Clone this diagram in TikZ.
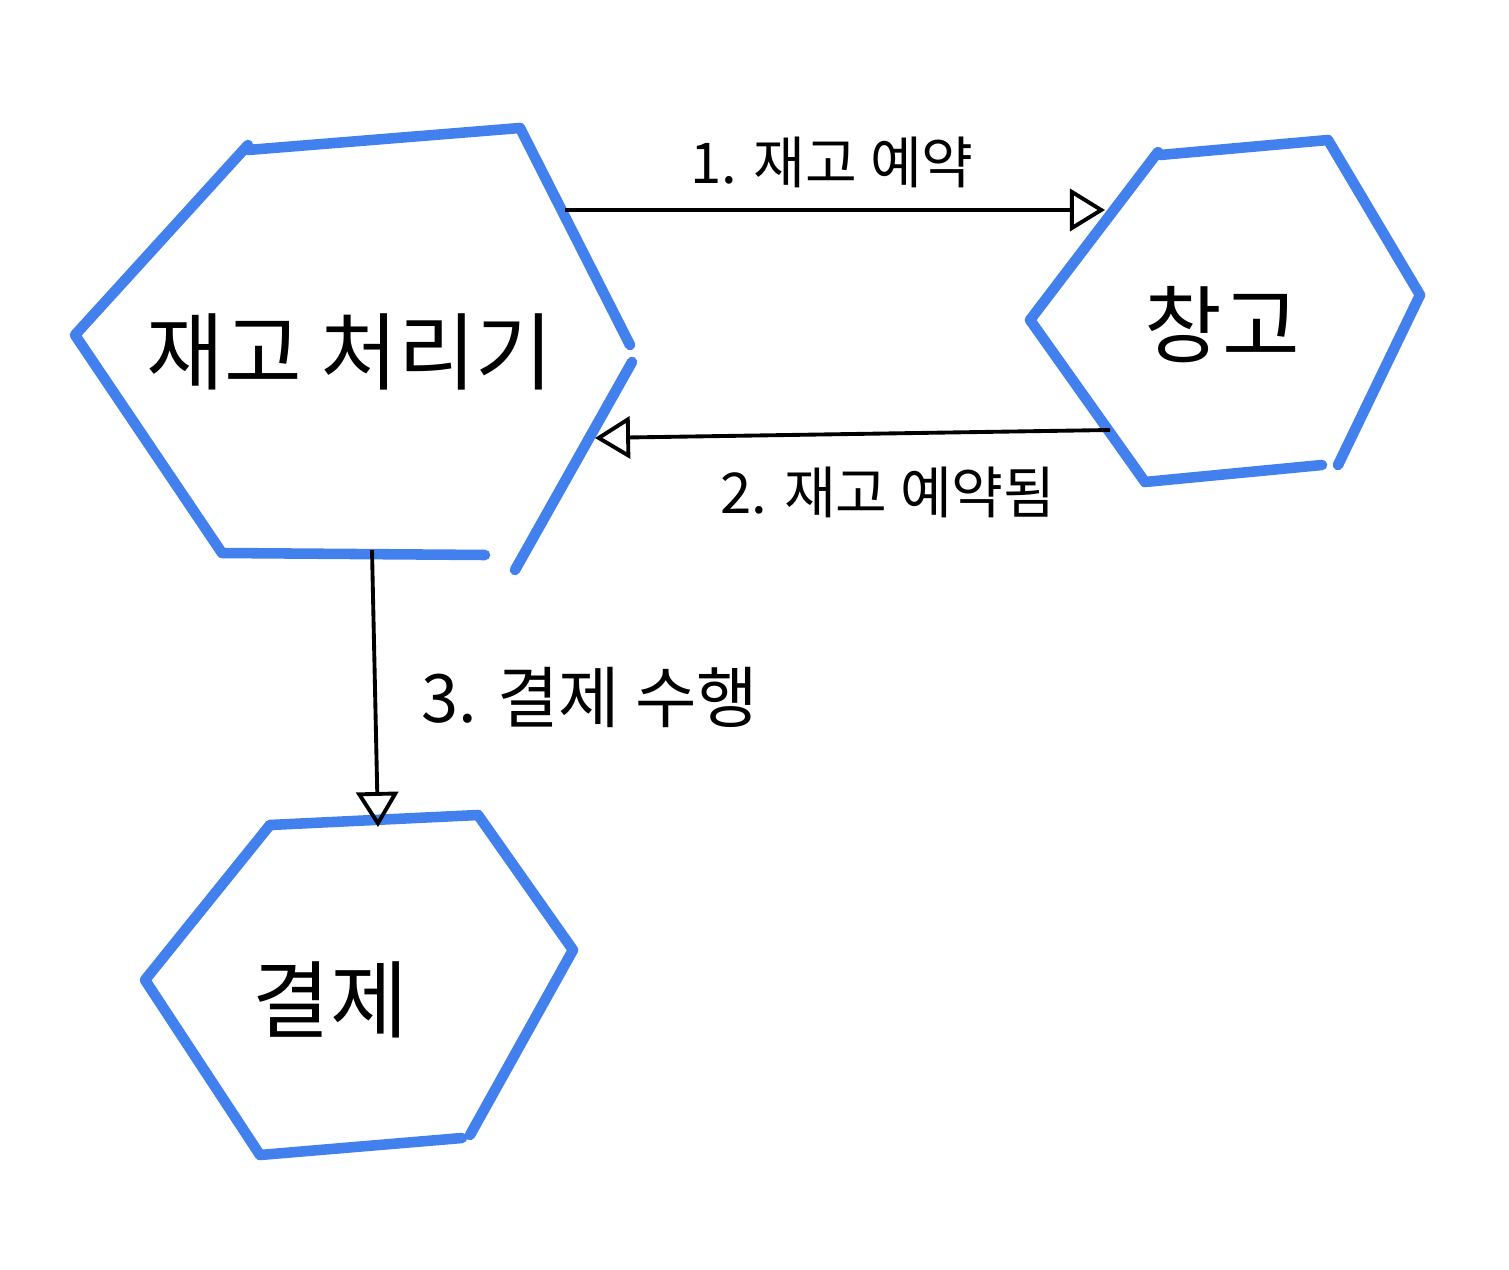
\documentclass[tikz,border=0pt]{standalone}
\usepackage{fontspec}
\newfontfamily\kr{Noto Sans CJK KR}
\usetikzlibrary{arrows.meta}
\definecolor{hexblue}{RGB}{66,128,238}
\tikzset{
  hexline/.style={draw=hexblue, line width=3pt, line cap=round, line join=round},
  flow/.style={draw=black, line width=1.1pt, -{Triangle[open, length=3.5mm, width=4.2mm, line width=1.1pt]}},
  bigtext/.style={font=\kr\fontsize{24}{28}\selectfont},
  lbl/.style={font=\kr\fontsize{16}{19}\selectfont}
}
\begin{document}
\begin{tikzpicture}[x=0.01cm,y=-0.01cm]
\useasboundingbox (0,0) rectangle (1509,1270);
% hexagon: 재고 처리기
\draw[hexline] (248,150) -- (520,128) -- (630,345);
\draw[hexline] (632,362) -- (515,570);
\draw[hexline] (485,555) -- (222,553) -- (75,335) -- (248,145);
% hexagon: 창고
\draw[hexline] (1160,155) -- (1328,140) -- (1420,295) -- (1338,465);
\draw[hexline] (1322,465) -- (1145,482) -- (1030,320) -- (1158,152);
% hexagon: 결제
\draw[hexline] (270,825) -- (478,815) -- (573,950) -- (470,1135);
\draw[hexline] (462,1138) -- (260,1155) -- (145,980) -- (270,825);
% texts
\node[bigtext] (inv) at (350,352) {재고 처리기};
\node[bigtext] (wh) at (1222,325) {창고};
\node[bigtext] (pay) at (330,1000) {결제};
% connectors
\coordinate (a1s) at (565,210);
\coordinate (a1e) at (1105,210);
\coordinate (a2s) at (1110,430);
\coordinate (a2e) at (595,438);
\coordinate (a3s) at (372,550);
\coordinate (a3e) at (378,827);
\draw[flow] (a1s) -- (a1e);
\draw[flow] (a2s) -- (a2e);
\draw[flow] (a3s) -- (a3e);
\node[lbl] (l1) at (832,162) {1. 재고 예약};
\node[lbl] (l2) at (888,492) {2. 재고 예약됨};
\node[lbl, font=\kr\fontsize{19}{22}\selectfont] (l3) at (590,697) {3. 결제 수행};
\end{tikzpicture}
\end{document}
